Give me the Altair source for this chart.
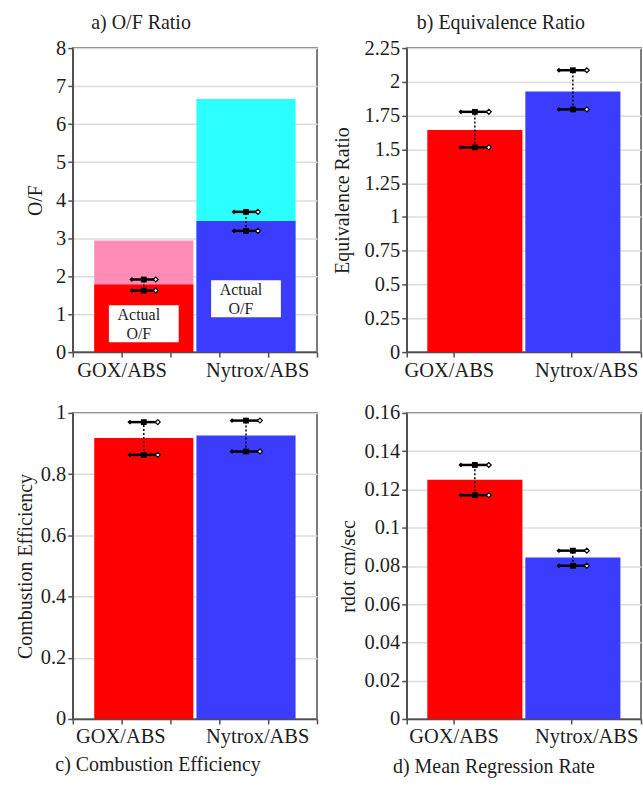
import altair as alt
import pandas as pd

categories = ["GOX/ABS", "Nytrox/ABS"]

# a) O/F ratio: measured (actual) and stoichiometric values
of_actual = [1.78, 3.45]
of_stoich = [2.94, 6.66]
of_low = [1.62, 3.19]
of_high = [1.91, 3.69]
note_text = ["Actual\nO/F", "Actual\nO/F"]
note_low = [0.26, 0.92]
note_high = [1.23, 1.89]

# b) equivalence ratio
phi = [1.643, 1.929]
phi_low = [1.515, 1.796]
phi_high = [1.778, 2.086]

# c) combustion efficiency
eta = [0.918, 0.926]
eta_low = [0.863, 0.874]
eta_high = [0.970, 0.975]

# d) mean regression rate (cm/s)
rdot = [0.1251, 0.0844]
rdot_low = [0.1170, 0.0801]
rdot_high = [0.1328, 0.0880]

y_ticks_a = [0, 1, 2, 3, 4, 5, 6, 7, 8]
y_ticks_b = [0, 0.25, 0.5, 0.75, 1, 1.25, 1.5, 1.75, 2, 2.25]
y_ticks_c = [0, 0.2, 0.4, 0.6, 0.8, 1]
y_ticks_d = [0, 0.02, 0.04, 0.06, 0.08, 0.1, 0.12, 0.14, 0.16]

FONT = "Liberation Serif, Times New Roman, Times, DejaVu Serif, serif"
TEXT = "#1e1e1e"
AXIS = "#505050"
BAR_COLORS = ["#FF0000", "#3C3CFF"]
STOICH_COLORS = ["#FF8CB4", "#2BFFFF"]


def xband():
    return alt.X(
        "cat:N",
        sort=categories,
        axis=None,
        scale=alt.Scale(type="band", domain=categories, paddingInner=0.03, paddingOuter=0.21),
    )


def yenc(field, title, ticks, title_pad):
    return alt.Y(
        field,
        title=title,
        scale=alt.Scale(domain=[ticks[0], ticks[-1]], nice=False, zero=True),
        axis=alt.Axis(
            values=ticks,
            labelExpr="'' + datum.value",
            grid=True,
            tickSize=5,
            labelPadding=2,
            titlePadding=title_pad,
            labelFlush=False,
            labelOverlap=False,
        ),
    )


def x_axis_layer(df, tick_pos, label_pos):
    # category axis drawn on a 0..1 frame so ticks and labels can sit apart
    values = sorted(set(tick_pos + label_pos))
    tick_list = "[" + ",".join(str(v) for v in tick_pos) + "]"
    expr = (
        f"datum.value == {label_pos[0]} ? '{categories[0]}' : "
        f"datum.value == {label_pos[1]} ? '{categories[1]}' : ''"
    )
    return alt.Chart(df).mark_point(opacity=0).encode(
        x=alt.XDatum(
            0.5,
            type="quantitative",
            scale=alt.Scale(domain=[0, 1], nice=False, zero=False),
            axis=alt.Axis(
                values=values,
                labelExpr=expr,
                tickSize=5,
                labelPadding=3,
                labelFlush=False,
                labelOverlap=False,
                grid=False,
                title=None,
                tickOpacity={
                    "condition": {"test": f"indexof({tick_list}, datum.value) < 0", "value": 0},
                    "value": 1,
                },
            ),
        )
    )


def error_layers(df, title, ticks, pad, cap):
    base = alt.Chart(df)
    stem = base.mark_rule(color="black", strokeDash=[2, 2], strokeWidth=1.5).encode(
        x=xband(), y=yenc("low:Q", title, ticks, pad), y2="high:Q"
    )
    ends = base.transform_fold(["low", "high"], as_=["end", "bound"])
    bar_cap = ends.mark_tick(color="black", thickness=2.5, size=cap, opacity=1).encode(
        x=xband(), y=yenc("bound:Q", title, ticks, pad)
    )
    centre = ends.mark_square(color="black", size=34, opacity=1).encode(
        x=xband(), y=yenc("bound:Q", title, ticks, pad)
    )
    left = ends.mark_point(
        shape="diamond", filled=True, color="black", size=24, opacity=1, xOffset=-cap / 2
    ).encode(x=xband(), y=yenc("bound:Q", title, ticks, pad))
    right = ends.mark_point(
        shape="diamond", filled=True, fill="white", stroke="black", strokeWidth=1.2,
        size=24, opacity=1, xOffset=cap / 2,
    ).encode(x=xband(), y=yenc("bound:Q", title, ticks, pad))
    return [stem, bar_cap, centre, left, right]


def bars(df, field, title, ticks, pad, colors):
    return alt.Chart(df).mark_bar(opacity=1).encode(
        x=xband(),
        y=yenc(field, title, ticks, pad),
        color=alt.Color("cat:N", scale=alt.Scale(domain=categories, range=colors), legend=None),
    )


def panel(df, field, title, ticks, pad, cap, tick_pos, label_pos, heading, width, height,
          extra_back=None, extra_front=None):
    layers = []
    if extra_back is not None:
        layers += extra_back
    layers.append(bars(df, field, title, ticks, pad, BAR_COLORS))
    if extra_front is not None:
        layers += extra_front
    layers += error_layers(df, title, ticks, pad, cap)
    content = alt.layer(*layers).resolve_scale(color="independent")
    return (
        alt.layer(content, x_axis_layer(df, tick_pos, label_pos))
        .resolve_scale(x="independent")
        .properties(width=width, height=height, title=heading)
    )


df_a = pd.DataFrame({
    "cat": categories, "value": of_actual, "stoich": of_stoich,
    "low": of_low, "high": of_high,
    "note": note_text, "note_low": note_low, "note_high": note_high,
})
df_b = pd.DataFrame({"cat": categories, "value": phi, "low": phi_low, "high": phi_high})
df_c = pd.DataFrame({"cat": categories, "value": eta, "low": eta_low, "high": eta_high})
df_d = pd.DataFrame({"cat": categories, "value": rdot, "low": rdot_low, "high": rdot_high})

PAD_A, PAD_B, PAD_C, PAD_D = 10, 12, 5, 6

# stoichiometric bars behind the measured ones, plus the "Actual O/F" tags
stoich_bars = bars(df_a, "stoich:Q", "O/F", y_ticks_a, PAD_A, STOICH_COLORS)
note_box = alt.Chart(df_a).mark_bar(color="white", width=70, opacity=1).encode(
    x=xband(), y=yenc("note_low:Q", "O/F", y_ticks_a, PAD_A), y2="note_high:Q"
)
note_label = alt.Chart(df_a).transform_calculate(
    mid="(datum.note_low + datum.note_high) / 2"
).mark_text(
    font=FONT, fontSize=16, lineBreak="\n", lineHeight=19, color=TEXT,
    baseline="middle", align="center", dx=-5, dy=-9,
).encode(x=xband(), y=yenc("mid:Q", "O/F", y_ticks_a, PAD_A), text="note:N")

top_title = dict(font=FONT, fontSize=20, fontWeight="normal", color=TEXT, frame="group", anchor="middle")

pa = panel(
    df_a, "value:Q", "O/F", y_ticks_a, PAD_A, 24,
    [0, 0.2, 0.4, 0.6, 0.8, 1], [0.2, 0.755],
    alt.TitleParams("a) O/F Ratio", dx=-54, offset=5, **top_title),
    245, 305, extra_back=[stoich_bars], extra_front=[note_box, note_label],
)
pb = panel(
    df_b, "value:Q", "Equivalence Ratio", y_ticks_b, PAD_B, 28,
    [0, 0.2, 0.7, 1], [0.18, 0.766],
    alt.TitleParams("b) Equivalence Ratio", dx=-23, offset=5, **top_title),
    235, 305,
)
pc = panel(
    df_c, "value:Q", "Combustion Efficiency", y_ticks_c, PAD_C, 28,
    [0, 0.2, 0.4, 0.6, 0.8, 1], [0.195, 0.755],
    alt.TitleParams("c) Combustion Efficiency", orient="bottom", dx=-37, offset=8, **top_title),
    245, 307,
)
pd_ = panel(
    df_d, "value:Q", "rdot cm/sec", y_ticks_d, PAD_D, 28,
    [0, 0.2, 0.7, 1], [0.2, 0.766],
    alt.TitleParams("d) Mean Regression Rate", orient="bottom", dx=-30, offset=10, **top_title),
    235, 307,
)

chart = (
    alt.concat(pa, pb, pc, pd_, columns=2, spacing=alt.RowColnumber(row=20, column=12))
    .properties(padding={"left": 14, "top": 11, "right": 0, "bottom": 0})
    .configure_axis(
        labelFont=FONT, titleFont=FONT, labelFontSize=20.5, titleFontSize=20,
        labelColor=TEXT, titleColor=TEXT, titleFontWeight="normal",
        domainColor=AXIS, tickColor=AXIS, domainWidth=1.5, tickWidth=1.5,
        gridColor="#DCDCDC", gridWidth=1.5,
    )
    .configure_view(stroke=AXIS, strokeWidth=1.5)
)

chart.save("out.html", embed_options={"renderer": "svg", "actions": False})
